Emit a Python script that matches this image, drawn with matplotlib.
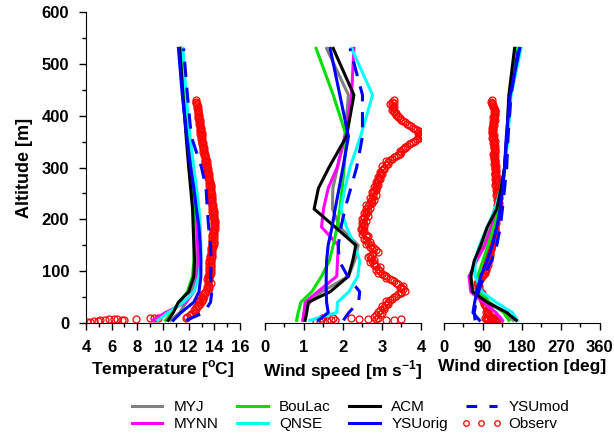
import matplotlib
matplotlib.use("Agg")
import matplotlib.pyplot as plt
from matplotlib.ticker import MultipleLocator
from matplotlib.lines import Line2D

plt.rcParams["font.family"] = ["Liberation Sans", "DejaVu Sans"]

# model levels [m]
z_mod = [5, 20, 40, 60, 90, 120, 150, 185, 220, 260, 300, 360, 440, 530]

# temperature [C]
t_myj = [10.6, 11.3, 11.8, 12.2, 12.5, 12.55, 12.5, 12.45, 12.4, 12.25, 12.1, 11.9, 11.6, 11.35]
t_mynn = [9.2, 10.2, 11.8, 12.4, 12.7, 12.75, 12.7, 12.6, 12.5, 12.35, 12.2, 11.95, 11.65, 11.4]
t_boulac = [10.2, 10.7, 11.3, 11.9, 12.3, 12.4, 12.45, 12.45, 12.4, 12.3, 12.15, 11.95, 11.7, 11.45]
t_qnse = [9.6, 10.4, 11.6, 12.4, 12.8, 12.95, 12.95, 12.9, 12.8, 12.6, 12.4, 12.1, 11.8, 11.55]
t_acm = [10.4, 10.8, 11.2, 12.0, 12.4, 12.45, 12.4, 12.35, 12.3, 12.15, 12.0, 11.8, 11.55, 11.3]
t_ysuorig = [10.8, 11.4, 12.4, 12.8, 12.95, 12.95, 12.9, 12.8, 12.6, 12.4, 12.15, 11.85, 11.5, 11.2]
t_ysumod = [11.8, 13.2, 13.7, 13.8, 13.7, 13.75, 13.7, 13.55, 13.45, 13.35, 13.0, 12.2, 11.9, 11.6]

# wind speed [m/s]
ws_myj = [0.98, 1.0, 1.15, 1.45, 2.14, 2.3, 2.39, 1.92, 1.73, 1.74, 1.86, 2.05, 2.14, 1.58]
ws_mynn = [0.97, 1.0, 1.03, 1.35, 1.84, 1.86, 1.88, 1.45, 1.5, 1.62, 1.85, 2.05, 2.22, 2.28]
ws_boulac = [0.81, 0.85, 0.92, 1.2, 1.45, 1.65, 1.75, 1.85, 1.92, 1.98, 2.03, 2.09, 1.75, 1.31]
ws_qnse = [1.15, 1.84, 1.86, 2.15, 2.38, 2.43, 2.3, 2.09, 1.95, 2.05, 2.18, 2.45, 2.76, 2.22]
ws_acm = [1.03, 1.07, 1.11, 1.67, 2.14, 2.25, 2.33, 1.8, 1.26, 1.37, 1.64, 2.09, 2.28, 1.75]
ws_ysuorig = [1.37, 1.62, 1.58, 1.57, 1.57, 1.58, 1.62, 1.72, 1.8, 1.9, 2.0, 2.14, 1.92, 1.67]
ws_ysumod = [2.01, 2.15, 2.4, 2.43, 2.12, 1.9, 1.88, 1.95, 2.05, 2.2, 2.35, 2.5, 2.5, 2.18]

# wind direction [deg]
wd_myj = [160, 140, 100, 68, 62, 75, 92, 108, 125, 134, 140, 145, 151, 166]
wd_mynn = [135, 120, 90, 62, 58, 75, 95, 110, 125, 134, 140, 146, 152, 168]
wd_boulac = [150, 138, 105, 80, 78, 90, 102, 115, 127, 135, 141, 146, 152, 168]
wd_qnse = [170, 158, 120, 88, 72, 72, 82, 100, 118, 132, 141, 148, 155, 178]
wd_acm = [167, 145, 100, 66, 62, 70, 85, 100, 122, 132, 140, 145, 150, 163]
wd_ysuorig = [82, 67, 71, 76, 85, 100, 112, 122, 130, 136, 140, 144, 153, 175]
wd_ysumod = [72, 70, 74, 80, 92, 110, 122, 130, 135, 140, 145, 148, 155, 172]

# observations, ascent
z_obs = [10, 15, 20, 25, 30, 35, 40, 45, 50, 55, 60, 65, 70, 75, 80, 85, 90, 95,
         100, 105, 110, 115, 120, 125, 130, 135, 140, 145, 150, 155, 160, 165, 170,
         175, 180, 185, 190, 195, 200, 205, 210, 215, 220, 225, 230, 235, 240, 245,
         250, 255, 260, 265, 270, 275, 280, 285, 290, 295, 300, 305, 310, 315, 320,
         325, 330, 335, 340, 345, 350, 355, 360, 365, 370, 375, 380, 385, 390, 395,
         400, 405, 410, 415, 420, 425, 430]
t_obs = [11.8, 12.1, 12.3, 12.4, 12.6, 12.7, 12.8, 12.9, 13.0, 13.1, 13.3, 13.4, 13.45,
         13.5, 13.5, 13.45, 13.5, 13.55, 13.55, 13.6, 13.6, 13.55, 13.6, 13.65, 13.65,
         13.7, 13.7, 13.75, 13.8, 13.8, 13.8, 13.85, 13.85, 13.9, 13.9, 13.95, 13.95,
         13.95, 13.95, 13.9, 13.9, 13.85, 13.85, 13.8, 13.8, 13.75, 13.75, 13.7, 13.7,
         13.65, 13.65, 13.6, 13.6, 13.55, 13.5, 13.5, 13.45, 13.4, 13.4, 13.35, 13.3,
         13.3, 13.25, 13.2, 13.15, 13.1, 13.1, 13.05, 13.0, 12.95, 12.95, 12.9, 12.9,
         12.85, 12.85, 12.8, 12.8, 12.75, 12.75, 12.7, 12.7, 12.65, 12.65, 12.6, 12.6]
ws_obs = [2.9, 2.85, 3.0, 2.95, 3.05, 3.1, 3.15, 3.2, 3.3, 3.4, 3.5, 3.55, 3.5, 3.4,
          3.3, 3.2, 3.1, 3.0, 2.95, 2.9, 2.85, 2.8, 2.75, 2.72, 2.7, 2.78, 2.85, 2.8,
          2.72, 2.65, 2.6, 2.62, 2.58, 2.52, 2.5, 2.5, 2.55, 2.52, 2.5, 2.55, 2.6, 2.6,
          2.6, 2.65, 2.7, 2.72, 2.75, 2.78, 2.78, 2.8, 2.85, 2.85, 2.88, 2.9, 2.92, 2.95,
          2.98, 3.0, 3.05, 3.1, 3.15, 3.2, 3.3, 3.4, 3.5, 3.55, 3.6, 3.7, 3.8, 3.9, 3.95,
          3.98, 3.95, 3.85, 3.75, 3.65, 3.55, 3.45, 3.4, 3.35, 3.3, 3.28, 3.25, 3.3, 3.3]
wd_obs = [100, 105, 102, 100, 98, 95, 92, 90, 88, 86, 84, 80, 78, 78, 80, 84, 88, 92,
          95, 97, 98, 100, 102, 103, 104, 106, 107, 108, 110, 110, 112, 113, 115, 116,
          117, 118, 118, 119, 120, 121, 122, 123, 123, 124, 124, 125, 124, 123, 123,
          122, 122, 121, 121, 120, 120, 119, 119, 120, 119, 118, 117, 117, 116, 116,
          117, 117, 116, 115, 115, 114, 113, 113, 112, 113, 114, 114, 115, 115, 116,
          117, 117, 116, 114, 111, 110]

# observations, descent
z_obs2 = [12, 17, 22, 27, 32, 37, 42, 47, 52, 57, 62, 67,
          72, 77, 82, 87, 92, 97, 102, 107, 112, 117, 122, 127,
          132, 137, 142, 147, 152, 157, 162, 167, 172, 177, 182, 187,
          192, 197, 202, 207, 212, 217, 222, 227, 232, 237, 242, 247,
          252, 257, 262, 267, 272, 277, 282, 287, 292, 297, 302, 307,
          312, 317, 322, 327, 332, 337, 342, 347, 352, 357, 362, 367,
          372, 377, 382, 387, 392, 397, 402, 407, 412, 417, 422, 427]
t_obs2 = [11.9, 12.2, 12.5, 12.6, 12.7, 12.9, 13.0, 13.1, 13.2, 13.3, 13.5, 13.6,
          13.6, 13.7, 13.6, 13.6, 13.65, 13.7, 13.7, 13.75, 13.7, 13.7, 13.75, 13.8,
          13.8, 13.85, 13.85, 13.9, 13.95, 13.95, 13.95, 14.0, 14.0, 14.0, 14.05, 14.05,
          14.05, 14.05, 14.0, 14.0, 13.95, 13.95, 13.9, 13.9, 13.85, 13.85, 13.8, 13.8,
          13.75, 13.75, 13.7, 13.7, 13.65, 13.6, 13.6, 13.55, 13.5, 13.5, 13.45, 13.4,
          13.4, 13.35, 13.3, 13.25, 13.2, 13.2, 13.15, 13.1, 13.05, 13.05, 13.0, 13.0,
          12.95, 12.95, 12.9, 12.85, 12.85, 12.8, 12.8, 12.75, 12.7, 12.7, 12.65, 12.6]
ws_obs2 = [2.8, 2.95, 2.9, 3.05, 3.0, 3.15, 3.1, 3.25, 3.35, 3.5, 3.6, 3.45,
           3.55, 3.35, 3.25, 3.1, 3.05, 2.9, 2.85, 2.95, 2.8, 2.7, 2.8, 2.65,
           2.75, 2.9, 2.75, 2.7, 2.6, 2.7, 2.55, 2.65, 2.5, 2.55, 2.45, 2.55,
           2.5, 2.6, 2.55, 2.65, 2.55, 2.65, 2.7, 2.6, 2.75, 2.8, 2.7, 2.85,
           2.75, 2.85, 2.8, 2.9, 2.85, 2.95, 2.9, 3.0, 2.95, 3.05, 3.0, 3.15,
           3.1, 3.25, 3.35, 3.45, 3.45, 3.6, 3.65, 3.75, 3.85, 3.95, 4.0, 3.92,
           3.9, 3.8, 3.7, 3.6, 3.5, 3.42, 3.35, 3.3, 3.25, 3.3, 3.2, 3.25]
wd_obs2 = [110, 100, 98, 104, 96, 93, 90, 92, 85, 88, 82, 78,
           80, 76, 82, 86, 90, 94, 98, 95, 101, 98, 104, 101,
           106, 104, 109, 106, 112, 108, 114, 111, 117, 114, 119, 116,
           121, 117, 122, 119, 124, 121, 126, 122, 127, 123, 126, 121,
           125, 120, 124, 119, 123, 118, 122, 117, 121, 118, 121, 116,
           119, 115, 118, 114, 119, 115, 118, 113, 117, 112, 115, 111,
           114, 112, 116, 113, 117, 114, 118, 115, 119, 114, 112, 109]

# near-surface observations
z_sfc = [1, 2, 3, 4, 5, 6, 7, 8, 7, 6, 5, 8, 9, 9, 9]
t_sfc = [4.1, 4.3, 4.6, 4.9, 5.1, 5.5, 5.8, 6.2, 6.4, 6.8, 7.0, 7.9, 9.0, 9.3, 9.6]
ws_sfc = [1.3, 1.4, 1.5, 1.6, 1.7, 1.8, 2.4, 2.65, 2.85, 3.1, 3.3, 3.5, 2.2, 1.45, 1.75]
wd_sfc = [105, 110, 120, 128, 115, 100, 125, 112, 98, 108, 118, 102, 122, 95, 114]

dash_plot = (0, (5, 3.5))
dash_legend = (0, (3.5, 4.0))

models = [
    ("MYJ", t_myj, ws_myj, wd_myj, "#808080", "-"),
    ("MYNN", t_mynn, ws_mynn, wd_mynn, "#ff00ff", "-"),
    ("BouLac", t_boulac, ws_boulac, wd_boulac, "#00e000", "-"),
    ("QNSE", t_qnse, ws_qnse, wd_qnse, "#00ffff", "-"),
    ("ACM", t_acm, ws_acm, wd_acm, "#000000", "-"),
    ("YSUorig", t_ysuorig, ws_ysuorig, wd_ysuorig, "#0000ff", "-"),
    ("YSUmod", t_ysumod, ws_ysumod, wd_ysumod, "#0000ff", "--"),
]

fig = plt.figure(figsize=(6.14, 4.34), dpi=100)
ax_t = fig.add_axes([0.140, 0.256, 0.251, 0.716])
ax_ws = fig.add_axes([0.4316, 0.256, 0.254, 0.716])
ax_wd = fig.add_axes([0.723, 0.256, 0.254, 0.716])

panels = [
    (ax_t, 1, (t_obs, t_obs2, t_sfc), (4, 16), 2, 1, "Temperature [$^{\\mathregular{o}}$C]"),
    (ax_ws, 2, (ws_obs, ws_obs2, ws_sfc), (0, 4), 1, 0.5, "Wind speed [m s$^{\\mathregular{-1}}$]"),
    (ax_wd, 3, (wd_obs, wd_obs2, wd_sfc), (0, 360), 90, 45, "Wind direction [deg]"),
]

obs_style = dict(ls="none", marker="o", mfc="none", mec="#ff0000", ms=5, mew=0.9, zorder=1)

for ax, idx, (obs, obs2, sfc), xlim, major, minor, label in panels:
    ax.plot(obs, z_obs, **obs_style)
    ax.plot(obs2, z_obs2, **obs_style)
    ax.plot(sfc, z_sfc, **obs_style)
    for name, t, ws, wd, color, ls in models:
        vals = (t, ws, wd)[idx - 1]
        ax.plot(vals, z_mod, color=color, lw=2.2,
                ls=dash_plot if ls == "--" else ls, zorder=2)
    ax.set_xlim(*xlim)
    ax.set_ylim(0, 600)
    ax.xaxis.set_major_locator(MultipleLocator(major))
    ax.xaxis.set_minor_locator(MultipleLocator(minor))
    ax.set_xlabel(label, fontsize=12.5, fontweight="bold", labelpad=3)
    for s in ["top", "right"]:
        ax.spines[s].set_visible(False)
    ax.tick_params(axis="x", which="major", direction="out", length=5, width=1,
                   labelsize=12, pad=7)
    ax.tick_params(axis="y", which="major", direction="out", length=5, width=1,
                   labelsize=12, pad=7)
    ax.tick_params(axis="both", which="minor", direction="out", length=3, width=1)
    for lab in ax.get_xticklabels() + ax.get_yticklabels():
        lab.set_fontweight("bold")
    if idx == 1:
        ax.yaxis.set_major_locator(MultipleLocator(100))
        ax.yaxis.set_minor_locator(MultipleLocator(50))
        ax.set_ylabel("Altitude [m]", fontsize=13, fontweight="bold", labelpad=6)
    else:
        ax.spines["left"].set_visible(False)
        ax.set_yticks([])
        ax.yaxis.set_minor_locator(plt.NullLocator())

handles = []
labels = []
for name, t, ws, wd, color, ls in models:
    handles.append(Line2D([], [], color=color, lw=2.2,
                          ls=dash_legend if ls == "--" else ls))
    labels.append(name)
handles.append(Line2D([], [], ls="none", marker="o", mfc="none", mec="#ff0000", ms=4, mew=0.9))
labels.append("Observ")

# legend fills column by column: MYJ/MYNN, BouLac/QNSE, ACM/YSUorig, YSUmod/Observ
fig.legend(handles, labels, loc="center", bbox_to_anchor=(0.567, 0.042), ncol=4,
           frameon=False, fontsize=11, handlelength=2.6, handletextpad=0.45,
           columnspacing=0.9, labelspacing=0.2, numpoints=3)

fig.savefig("out.png", dpi=100)
